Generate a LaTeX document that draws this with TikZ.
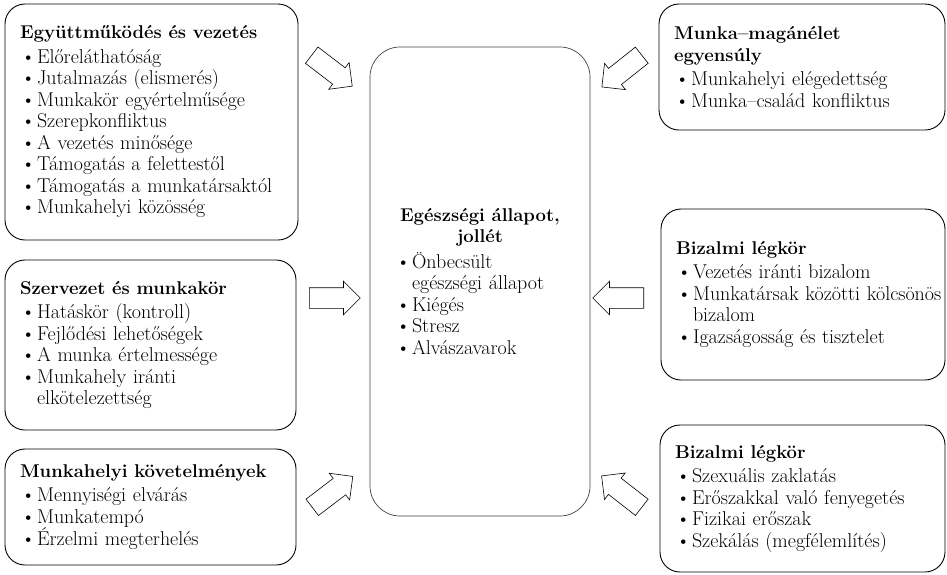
\documentclass[tikz,border=0pt]{standalone}
\usepackage{fontspec}
\usetikzlibrary{shapes.arrows}
\newcommand{\pont}[1]{\par\noindent\hspace*{1pt}\makebox[0.8em][l]{\textbullet}#1}
\newcommand{\folyt}[1]{\par\noindent\hspace*{1pt}\hspace*{0.8em}#1}
\newcommand{\cim}[1]{{\fontsize{18.5}{21.5}\selectfont\bfseries #1\par}\vspace{3pt}}
\begin{document}
\begin{tikzpicture}[x=1pt, y=-1pt,
  doboz/.style={draw, rounded corners=20pt, line width=0.9pt, align=left, inner xsep=15pt, inner ysep=0pt, font=\fontsize{20}{21.5}\selectfont},
  kozep/.style={draw=black!75, rounded corners=30pt, line width=0.7pt, align=left, inner xsep=25pt, inner ysep=0pt, font=\fontsize{20}{21.5}\selectfont},
  nyil/.style={single arrow, draw, line width=0.6pt, minimum height=51pt, minimum width=33pt, single arrow head extend=6.5pt, single arrow head indent=0pt, inner xsep=0pt, inner ysep=10pt, anchor=tail}]
\useasboundingbox (0,0) rectangle (947,574);

% bal oldali dobozok
\node[doboz, minimum width=293pt, minimum height=236pt, text width=263pt] (egyutt) at (151.5,122) {\cim{Együttműködés és vezetés}
  \pont{Előreláthatóság}
  \pont{Jutalmazás (elismerés)}
  \pont{Munkakör egyértelműsége}
  \pont{Szerepkonfliktus}
  \pont{A vezetés minősége}
  \pont{Támogatás a felettestől}
  \pont{Támogatás a munkatársaktól}
  \pont{Munkahelyi közösség}};
\node[doboz, minimum width=291pt, minimum height=170pt, text width=261pt] (szervezet) at (150.5,345) {\cim{Szervezet és munkakör}
  \pont{Hatáskör (kontroll)}
  \pont{Fejlődési lehetőségek}
  \pont{A munka értelmessége}
  \pont{Munkahely iránti}
  \folyt{elkötelezettség}};
\node[doboz, minimum width=291pt, minimum height=116pt, text width=261pt] (kovetelm) at (150.5,507) {\cim{Munkahelyi követelmények}
  \pont{Mennyiségi elvárás}
  \pont{Munkatempó}
  \pont{Érzelmi megterhelés}};

% kozepso doboz
\node[kozep, minimum width=220pt, minimum height=469pt, text width=170pt] (allapot) at (480,281.5) {{\fontsize{18.5}{21.5}\selectfont\centering\bfseries Egészségi állapot,\\ jollét\par}\vspace{4pt}
  \pont{Önbecsült}
  \folyt{egészségi állapot}
  \pont{Kiégés}
  \pont{Stresz}
  \pont{Alvászavarok}};

% jobb oldali dobozok
\node[doboz, minimum width=286pt, minimum height=126pt, text width=256pt] (egyensuly) at (802,67) {\cim{Munka–magánélet\\ egyensúly}
  \pont{Munkahelyi elégedettség}
  \pont{Munka–család konfliktus}};
\node[doboz, minimum width=284pt, minimum height=171pt, text width=254pt] (bizalom) at (803,294.5) {\cim{Bizalmi légkör}
  \pont{Vezetés iránti bizalom}
  \pont{\mbox{Munkatársak közötti kölcsönös}}
  \folyt{bizalom}
  \pont{Igazságosság és tisztelet}};
\node[doboz, minimum width=285pt, minimum height=147pt, text width=255pt] (legkor) at (802.5,498.5) {\cim{Bizalmi légkör}
  \pont{Szexuális zaklatás}
  \pont{Erőszakkal való fenyegetés}
  \pont{Fizikai erőszak}
  \pont{Szekálás (megfélemlítés)}};

% nyilak
\node[nyil, rotate=-37.4] (nyil1) at (311.5,55) {};
\node[nyil] (nyil2) at (309,298) {};
\node[nyil, rotate=37.3] (nyil3) at (312,507.5) {};
\node[nyil, rotate=-141.5] (nyil4) at (642,55) {};
\node[nyil, rotate=180] (nyil5) at (644,298) {};
\node[nyil, rotate=142] (nyil6) at (642,507.5) {};
\end{tikzpicture}
\end{document}
